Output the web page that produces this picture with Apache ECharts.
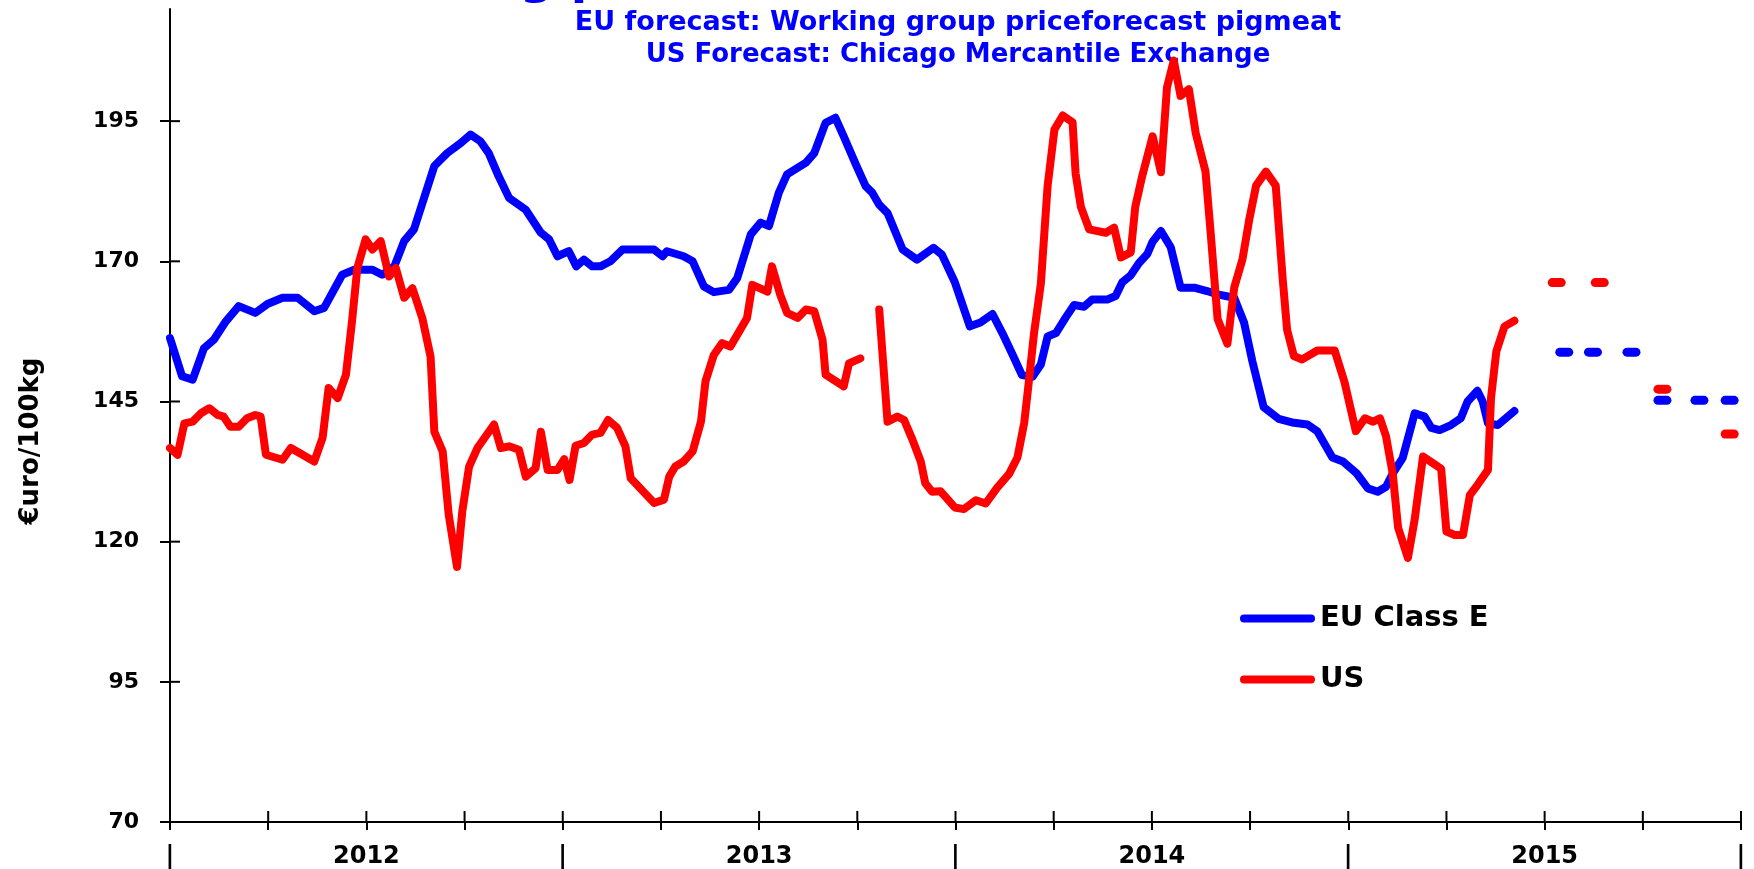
<!DOCTYPE html>
<html>
<head>
<meta charset="utf-8">
<script src="https://cdn.jsdelivr.net/npm/echarts@6/dist/echarts.min.js"></script>
<style>
	html, body { margin: 0; padding: 0; background: #fff; }
	#main { width: 1754px; height: 869px; }
</style>
</head>
<body>
<div id="main"></div>
<script>
// x = weeks counted from the start of 2012 (4 years = 208 weeks)
var euWeeks = [
	0, 1.6, 3, 4.5, 5.8, 7.4, 9.1, 11.3, 12.9, 14.9,
	16.9, 19.1, 20.4, 22.8, 24.4, 26.8, 28.1, 29.7, 31, 32.3,
	35, 36.7, 38.5, 39.8, 41.1, 42.2, 43.5, 44.9, 47.1, 49.1,
	50.2, 51.3, 52.8, 53.8, 54.8, 55.9, 57, 58.3, 59.9, 64.1,
	65.2, 65.8, 68, 69.2, 70.7, 72, 74, 75.1, 76.9, 78.2,
	79.3, 80.6, 81.7, 84.2, 85.3, 86.8, 88.1, 89.2, 90.8, 92.1,
	93, 93.9, 95, 97, 98.9, 101.1, 102.2, 103.9, 105.9, 107.3,
	108.9, 110.2, 111.5, 112.8, 114.2, 115.3, 116.2, 117.3, 118.6, 119.7,
	121, 122.1, 124.1, 125.2, 126.1, 127.2, 128.3, 129.4, 130.1, 131.2,
	132.5, 133.8, 135.6, 137.3, 138.7, 140.9, 142.2, 143.3, 144.8, 146.8,
	148.8, 150.6, 151.9, 153.9, 155.3, 157.1, 158.6, 159.9, 161, 161.9,
	163.2, 164.8, 166.1, 167, 168.1, 169.6, 170.9, 171.8, 173.1, 173.8,
	174.5, 175.8, 178
];
var euPrice = [
	156.3, 149.5, 148.9, 154.5, 156.0, 159.3, 162.0, 160.8, 162.4, 163.5,
	163.5, 161.1, 161.7, 167.6, 168.5, 168.5, 167.6, 169.1, 173.6, 175.7,
	187.0, 189.3, 191.1, 192.6, 191.4, 189.3, 185.2, 181.3, 179.2, 175.1,
	173.9, 170.9, 171.8, 169.1, 170.3, 169.1, 169.1, 170.0, 172.1, 172.1,
	170.9, 171.8, 170.9, 170.0, 165.5, 164.5, 164.9, 167.0, 174.8, 176.9,
	176.3, 182.2, 185.5, 187.6, 189.3, 194.7, 195.6, 192.3, 187.3, 183.4,
	182.2, 180.1, 178.6, 172.1, 170.3, 172.4, 171.2, 166.3, 158.4, 159.1,
	160.6, 157.2, 153.5, 149.7, 149.4, 151.6, 156.6, 157.2, 160.0, 162.2,
	161.9, 163.2, 163.2, 163.8, 166.3, 167.5, 169.7, 171.3, 173.5, 175.4,
	172.5, 165.3, 165.3, 164.7, 164.1, 163.5, 159.1, 152.2, 144.0, 141.9,
	141.2, 140.9, 139.7, 135.0, 134.3, 132.2, 129.5, 128.9, 129.8, 132.2,
	134.9, 142.9, 142.3, 140.3, 139.9, 140.8, 142.0, 145.0, 146.9, 145.0,
	141.1, 140.8, 143.3
];

var usWeeks = [
	0, 1, 1.9, 3, 4.1, 5.2, 6.3, 7.1, 8, 9.1,
	10.2, 11.3, 12, 12.7, 14.9, 16, 19.1, 20.2, 21, 22.2,
	23.3, 24.1, 24.8, 25.9, 26.8, 27.9, 29, 29.9, 31, 32.1,
	33.4, 34.5, 35, 36.1, 36.9, 38, 38.7, 39.6, 40.7, 42.9,
	43.8, 44.9, 46.2, 47.1, 48.4, 49.1, 50, 51.3, 52.2, 52.9,
	53.7, 54.8, 55.9, 57, 58, 59.2, 60.3, 61, 64.1, 65.4,
	66.1, 66.9, 68, 69.2, 70.3, 70.9, 72, 73.1, 74.2, 75.5,
	76.4, 77.1, 79.1, 79.7, 80.8, 81.7, 83.1, 84.2, 85.3, 86.4,
	86.8, 89.2, 89.9, 91.4, 92.6, 93.9, 95, 96.3, 97.2, 98.3,
	99.4, 100, 100.9, 102, 103.9, 105.1, 106.7, 108, 109.5, 111.1,
	112.2, 113.1, 113.7, 114.4, 115.3, 116.2, 117.1, 118.2, 119.5, 119.9,
	120.6, 121.7, 123.9, 125, 125.9, 127.2, 127.8, 128.7, 130.1, 131.2,
	132, 132.9, 133.8, 134.9, 135.8, 137.1, 137.8, 138.7, 140, 140.9,
	142, 142.9, 143.8, 145.1, 146.4, 147.3, 147.9, 148.8, 149.9, 151.9,
	154.2, 155.5, 157, 158.2, 159.3, 160.2, 161, 161.9, 162.6, 163.9,
	164.8, 165.9, 167.2, 168.3, 169, 170.1, 171.2, 172.1, 173.1, 174.5,
	174.9, 175.6, 176.7, 178
];
var usPrice = [
	136.7, 135.5, 141.1, 141.4, 142.9, 143.8, 142.6, 142.3, 140.5, 140.5,
	142.0, 142.6, 142.3, 135.5, 134.6, 136.7, 134.3, 138.5, 147.4, 145.6,
	149.8, 159.3, 168.8, 173.9, 172.1, 173.6, 167.3, 168.8, 163.5, 165.2,
	159.9, 153.0, 139.6, 136.1, 124.8, 115.5, 125.4, 133.4, 136.7, 140.9,
	136.7, 137.0, 136.4, 131.6, 133.1, 139.6, 132.8, 132.8, 134.7, 131.0,
	137.1, 137.6, 139.1, 139.4, 141.7, 140.3, 137.0, 131.3, 126.9, 127.5,
	131.6, 133.4, 134.3, 136.1, 141.4, 148.6, 153.3, 155.4, 154.8, 157.8,
	159.9, 165.8, 164.6, 169.1, 164.0, 160.8, 159.9, 161.4, 161.1, 156.0,
	149.8, 147.7, 151.8, 152.7, null, 161.4, 141.4, 142.3, 141.7, 138.2,
	134.3, 130.4, 128.9, 129.0, 126.1, 125.8, 127.4, 126.8, 129.6, 132.1,
	135.0, 141.2, 148.4, 157.2, 166.0, 183.5, 193.5, 196.0, 194.8, 185.7,
	179.7, 175.7, 175.1, 176.0, 170.7, 171.6, 179.7, 185.1, 192.3, 185.9,
	201.0, 205.8, 199.5, 200.7, 192.9, 186.0, 174.8, 159.7, 155.3, 165.3,
	170.4, 177.5, 183.5, 186.0, 183.5, 167.2, 157.8, 153.1, 152.5, 154.1,
	154.1, 148.5, 139.7, 142.0, 141.4, 142.0, 138.8, 132.0, 122.5, 117.1,
	124.0, 135.2, 134.0, 133.0, 121.8, 121.2, 121.2, 128.3, 130.1, 132.8,
	145.6, 153.9, 158.4, 159.4
];

// forecasts (monthly dashes)
var euFcWeeks = [184.6, 188.4, 193.5, 197.6, 202.5, 206.5];
var euFcPrice = [153.8, 153.8, 153.8, 145.2, 145.2, 145.2];
var usFcWeeks = [183.6, 189.3, 197.6, 206.5];
var usFcPrice = [166.2, 166.2, 147.2, 139.2];

var yTicks = [70, 95, 120, 145, 170, 195];
var xTicks = [0, 13, 26, 39, 52, 65, 78, 91, 104, 117, 130, 143, 156, 169, 182, 195, 208];
var xLabelWeeks = [0, 26, 52, 78, 104, 130, 156, 182, 208];
var xLabelTexts = ['|', '2012', '|', '2013', '|', '2014', '|', '2015', '|'];

var FONT = 'DejaVu Sans';
var dash = 'path://M4.5,0 H13.5 A4.5,4.5 0 0 1 13.5,9 H4.5 A4.5,4.5 0 0 1 4.5,0 Z';
var legendBar = 'path://M4,0 H71 A4,4 0 0 1 71,8 H4 A4,4 0 0 1 4,0 Z';

function pairs(xs, ys) {
	return xs.map(function (x, i) {
		return [x, ys[i] == null ? '-' : ys[i]];
	});
}

var axisStyle = { color: '#000', width: 2 };

var texts = [
	// big title cut off by the top edge, only the descenders show
	{ type: 'text', x: 468, y: -19, silent: true,
		style: { text: 'Pig prices', font: 'bold 48px ' + FONT, fill: '#0000ff', verticalAlign: 'middle' } },
	{ type: 'text', x: 958, y: 23,
		style: { text: 'EU forecast: Working group priceforecast pigmeat', font: 'bold 27px ' + FONT, fill: '#0000ff', align: 'center', verticalAlign: 'middle' } },
	{ type: 'text', x: 958, y: 55,
		style: { text: 'US Forecast: Chicago Mercantile Exchange', font: 'bold 26px ' + FONT, fill: '#0000ff', align: 'center', verticalAlign: 'middle' } },
	{ type: 'text', x: 31, y: 441, rotation: Math.PI / 2,
		style: { text: '€uro/100kg', font: 'bold 26px ' + FONT, fill: '#000', align: 'center', verticalAlign: 'middle' } }
];

var option = {
	animation: false,
	backgroundColor: '#fff',
	grid: { left: 170, right: 13, top: 9, bottom: 47 },
	graphic: texts,
	legend: {
		data: ['EU Class E', 'US'],
		orient: 'vertical',
		left: 1240,
		top: 604,
		padding: 0,
		itemGap: 32,
		itemWidth: 75,
		itemHeight: 8,
		icon: legendBar,
		textStyle: { color: '#000', fontSize: 29, fontWeight: 'bold', fontFamily: FONT }
	},
	xAxis: {
		type: 'value', min: 0, max: 208, interval: 13, position: 'bottom',
		axisLine: { show: true, lineStyle: axisStyle },
		axisTick: { show: true, customValues: xTicks, length: 8, lineStyle: axisStyle },
		axisLabel: {
			customValues: xLabelWeeks,
			margin: 23,
			color: '#000', fontSize: 24, fontWeight: 'bold', fontFamily: FONT,
			formatter: function (v) { return xLabelTexts[xLabelWeeks.indexOf(v)]; }
		},
		splitLine: { show: false }
	},
	yAxis: {
		type: 'value', min: 70, max: 215, interval: 25, position: 'left',
		axisLine: { show: true, lineStyle: axisStyle },
		axisTick: { show: true, customValues: yTicks, length: 10, lineStyle: axisStyle },
		axisLabel: {
			customValues: yTicks, margin: 31,
			color: '#000', fontSize: 22, fontWeight: 'bold', fontFamily: FONT
		},
		splitLine: { show: false }
	},
	series: [{
		name: 'EU Class E',
		type: 'line',
		data: pairs(euWeeks, euPrice),
		symbol: 'none',
		color: '#0000ff',
		lineStyle: { width: 8, color: '#0000ff', cap: 'round', join: 'round' },
		z: 3
	}, {
		name: 'US',
		type: 'line',
		data: pairs(usWeeks, usPrice),
		symbol: 'none',
		connectNulls: false,
		color: '#ff0000',
		lineStyle: { width: 8, color: '#ff0000', cap: 'round', join: 'round' },
		z: 4
	}, {
		name: 'EU forecast',
		type: 'scatter',
		data: pairs(euFcWeeks, euFcPrice),
		symbol: dash,
		symbolSize: [18, 9],
		itemStyle: { color: '#0000ff', opacity: 1 },
		z: 5
	}, {
		name: 'US forecast',
		type: 'scatter',
		data: pairs(usFcWeeks, usFcPrice),
		symbol: dash,
		symbolSize: [18, 9],
		itemStyle: { color: '#ff0000', opacity: 1 },
		z: 5
	}]
};

var myChart = echarts.init(document.getElementById('main'));
myChart.setOption(option);

// inner half of the crossing ticks, placed through the axes' own scales
function innerTicks() {
	var marks = [];
	yTicks.forEach(function (v) {
		var p = myChart.convertToPixel({ gridIndex: 0 }, [0, v]);
		marks.push({ type: 'line', silent: true, z: 10,
			shape: { x1: p[0], y1: p[1], x2: p[0] + 10, y2: p[1] },
			style: { stroke: '#000', lineWidth: 2 } });
	});
	xTicks.forEach(function (w) {
		var p = myChart.convertToPixel({ gridIndex: 0 }, [w, 70]);
		marks.push({ type: 'line', silent: true, z: 10,
			shape: { x1: p[0], y1: p[1], x2: p[0], y2: p[1] - 11 },
			style: { stroke: '#000', lineWidth: 2 } });
	});
	return marks;
}
myChart.setOption({ graphic: texts.concat(innerTicks()) });
</script>
</body>
</html>
